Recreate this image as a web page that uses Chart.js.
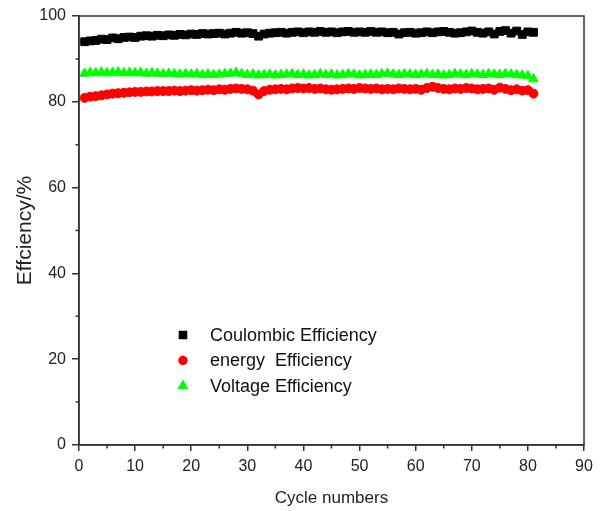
<!DOCTYPE html>
<html>
<head>
<meta charset="utf-8">
<script src="https://cdn.jsdelivr.net/npm/chart.js@4/dist/chart.umd.min.js"></script>
<style>
  html, body { margin: 0; padding: 0; background: #fff; }
  #wrap { width: 603px; height: 511px; }
</style>
</head>
<body>
<div id="wrap"><canvas id="grafica" width="603" height="511"></canvas></div>
<script>
// cycle number of every measurement
var ciclos = [1,2,3,4,5,6,7,8,9,10,11,12,13,14,15,16,17,18,19,20,
  21,22,23,24,25,26,27,28,29,30,31,32,33,34,35,36,37,38,39,40,
  41,42,43,44,45,46,47,48,49,50,51,52,53,54,55,56,57,58,59,60,
  61,62,63,64,65,66,67,68,69,70,71,72,73,74,75,76,77,78,79,80,81];

var coulombic = [94.0,94.2,94.3,94.6,94.5,94.9,94.7,95.0,95.1,95.0,95.3,95.4,95.3,95.5,95.4,95.6,95.5,95.7,95.6,95.8,
  95.7,95.9,95.8,95.9,96.0,95.8,96.0,96.2,96.0,96.1,95.9,95.3,95.8,96.0,96.1,96.2,96.0,96.2,96.3,96.1,
  96.3,96.2,96.4,96.2,96.3,96.1,96.3,96.4,96.2,96.3,96.2,96.4,96.2,96.3,96.1,96.2,95.8,96.1,96.2,96.0,
  96.1,96.3,96.1,96.3,96.4,96.2,96.0,96.1,96.3,96.5,96.2,96.0,96.3,95.8,96.4,96.6,96.0,96.5,95.7,96.3,96.2];

var energia = [80.9,81.2,81.3,81.5,81.7,81.9,82.0,82.1,82.2,82.3,82.3,82.4,82.4,82.5,82.5,82.5,82.6,82.5,82.6,82.7,
  82.6,82.7,82.8,82.7,82.9,82.8,83.0,83.1,83.0,82.9,82.6,81.7,82.5,82.8,82.9,83.0,82.9,83.1,83.2,83.1,
  83.2,83.0,83.1,82.9,82.8,82.9,83.0,83.1,83.0,83.2,83.1,83.0,83.1,82.9,83.0,82.9,83.1,83.0,82.9,83.0,
  82.8,83.2,83.5,83.2,83.0,82.9,83.1,83.0,83.2,83.1,82.9,83.0,83.1,82.8,83.3,83.0,82.7,82.9,82.6,82.7,81.9];

var voltaje = [86.6,86.8,86.7,86.9,86.7,86.8,86.9,86.7,86.8,86.7,86.8,86.6,86.7,86.6,86.5,86.6,86.5,86.4,86.5,86.4,
  86.5,86.3,86.4,86.3,86.4,86.5,86.6,86.8,86.5,86.3,86.4,86.2,86.3,86.4,86.2,86.3,86.4,86.5,86.3,86.4,
  86.2,86.3,86.5,86.3,86.4,86.2,86.3,86.5,86.4,86.2,86.3,86.4,86.3,86.5,86.6,86.4,86.3,86.5,86.4,86.3,
  86.4,86.5,86.3,86.4,86.2,86.3,86.5,86.4,86.3,86.5,86.4,86.3,86.5,86.4,86.3,86.5,86.4,86.3,86.2,86.0,85.3];

var etiquetas = ['Coulombic Efficiency', 'energy  Efficiency', 'Voltage Efficiency'];
var minorX = [5,15,25,35,45,55,65,75,85];
var minorY = [10,30,50,70,90];

var fuente = '"Liberation Sans", Arial, sans-serif';
var lineaEje = '#333';

function puntos(valores){
    return valores.map((v, i) => ({x: ciclos[i], y: v}));
}

// frame, minor ticks and the legend inside the plot
var marco = {
    id: 'marco',
    afterDraw(chart){
        var ctx = chart.ctx;
        var a = chart.chartArea;
        var sx = chart.scales.x, sy = chart.scales.y;
        ctx.save();
        ctx.strokeStyle = lineaEje;
        ctx.lineWidth = 1.5;
        ctx.strokeRect(a.left, a.top, a.right - a.left, a.bottom - a.top);
        ctx.beginPath();
        minorX.forEach(v => {
            var px = sx.getPixelForValue(v);
            ctx.moveTo(px, a.bottom);
            ctx.lineTo(px, a.bottom + 3.5);
        });
        minorY.forEach(v => {
            var py = sy.getPixelForValue(v);
            ctx.moveTo(a.left, py);
            ctx.lineTo(a.left - 3.5, py);
        });
        ctx.stroke();

        var x0 = a.left + 104, y0 = 335, paso = 25.5;
        ctx.font = '18px ' + fuente;
        ctx.textBaseline = 'middle';
        chart.data.datasets.forEach((ds, i) => {
            var y = y0 + i * paso;
            ctx.fillStyle = ds.backgroundColor;
            ctx.strokeStyle = ds.borderColor;
            Chart.helpers.drawPoint(ctx, {pointStyle: ds.pointStyle, radius: ds.pointRadius - 0.5, rotation: 0, borderWidth: 1}, x0, y);
            ctx.fillStyle = '#111';
            ctx.fillText(ds.label, x0 + 27, y + 1);
        });
        ctx.restore();
    }
};

new Chart(document.getElementById('grafica'), {
    type: 'scatter',
    data: {
        datasets: [
            {label: etiquetas[0], data: puntos(coulombic), pointStyle: 'rect', pointRadius: 5.5,
             backgroundColor: '#000', borderColor: '#000', borderWidth: 1},
            {label: etiquetas[1], data: puntos(energia), pointStyle: 'circle', pointRadius: 4.5,
             backgroundColor: '#ff0000', borderColor: '#ff0000', borderWidth: 1},
            {label: etiquetas[2], data: puntos(voltaje), pointStyle: 'triangle', pointRadius: 5.5,
             backgroundColor: '#00ff00', borderColor: '#00ff00', borderWidth: 1}
        ]
    },
    options: {
        responsive: false,
        animation: false,
        layout: {padding: {top: 16, right: 19, left: 0, bottom: 0}},
        plugins: {legend: {display: false}, tooltip: {enabled: false}},
        scales: {
            x: {
                type: 'linear', min: 0, max: 90,
                afterFit(s){ s.height = 66; },
                ticks: {stepSize: 10, color: '#222', padding: 6, font: {family: fuente, size: 16}, maxRotation: 0},
                grid: {drawOnChartArea: false, drawTicks: true, tickLength: 6, color: lineaEje, lineWidth: 1.5},
                border: {display: true, color: lineaEje, width: 1.5},
                title: {display: true, text: 'Cycle numbers', color: '#222',
                        font: {family: fuente, size: 17}, padding: {top: 0, bottom: 2}}
            },
            y: {
                min: 0, max: 100,
                afterFit(s){ s.width = 79; },
                ticks: {stepSize: 20, color: '#222', padding: 6, font: {family: fuente, size: 16}},
                grid: {drawOnChartArea: false, drawTicks: true, tickLength: 7, color: lineaEje, lineWidth: 1.5},
                border: {display: true, color: lineaEje, width: 1.5},
                title: {display: true, text: 'Effciency/%', color: '#222',
                        font: {family: fuente, size: 21}, padding: {top: 13, bottom: 0}}
            }
        }
    },
    plugins: [marco]
});
</script>
</body>
</html>
